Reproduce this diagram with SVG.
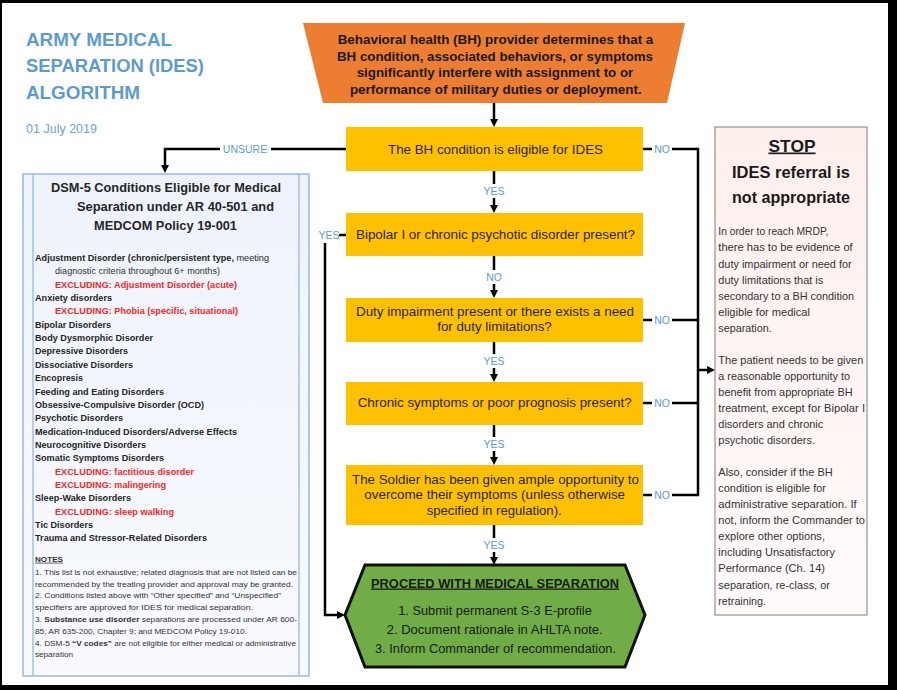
<svg xmlns="http://www.w3.org/2000/svg" width="897" height="690" viewBox="0 0 897 690">
<defs>
<style>
text{font-family:"Liberation Sans",Arial,Helvetica,sans-serif}
.conn{fill:none;stroke:#000;stroke-width:2.5}
.lbl{font-size:10.5px;fill:#5B9BD5;text-anchor:middle}
.dec{fill:#FFC000}
.dt{font-size:13.3px;fill:#262626;text-anchor:middle}
.ot{font-size:12.8px;font-weight:bold;fill:#1a1a1a;text-anchor:middle}
.ht{font-size:12.8px;fill:#1a1a1a;text-anchor:middle}
.li{font-size:9px;font-weight:bold;fill:#262626}
.lr{font-size:9px;fill:#333}
.ex{font-size:9px;font-weight:bold;fill:#FF2424}
.nt{font-size:7.3px;fill:#333}
.sb{font-size:11px;fill:#333}
.ttl{font-size:19px;font-weight:bold;fill:#5B9BD5}
</style>
<marker id="ah" markerWidth="8" markerHeight="8" refX="1" refY="4" orient="auto" markerUnits="userSpaceOnUse">
<path d="M0,0 L8,4 L0,8 z" fill="#000"/>
</marker>
<linearGradient id="pink" x1="0" y1="0" x2="0" y2="1">
<stop offset="0" stop-color="#FDEFEC"/>
<stop offset="1" stop-color="#FFFBFB"/>
</linearGradient>
<linearGradient id="blue" x1="0" y1="0" x2="0" y2="1">
<stop offset="0" stop-color="#EEF3FB"/>
<stop offset="1" stop-color="#F8FAFE"/>
</linearGradient>
</defs>

<rect x="0" y="0" width="897" height="690" fill="#000"/>
<rect x="2" y="3" width="886" height="682" fill="#fff"/>

<g id="title">
<text class="ttl" x="26" y="46" textLength="146" lengthAdjust="spacingAndGlyphs">ARMY MEDICAL</text>
<text class="ttl" x="26" y="72" textLength="178" lengthAdjust="spacingAndGlyphs">SEPARATION (IDES)</text>
<text class="ttl" x="26" y="99" textLength="114" lengthAdjust="spacingAndGlyphs">ALGORITHM</text>
<text x="26" y="133" font-size="12.5" fill="#6FA3DA" textLength="71" lengthAdjust="spacingAndGlyphs">01 July 2019</text>
</g>

<g id="connectors">
<line class="conn" x1="494" y1="103" x2="494" y2="120" marker-end="url(#ah)"/>
<line class="conn" x1="494" y1="171" x2="494" y2="184"/>
<text class="lbl" x="494" y="195.2">YES</text>
<line class="conn" x1="494" y1="198" x2="494" y2="206" marker-end="url(#ah)"/>
<line class="conn" x1="494" y1="256" x2="494" y2="270"/>
<text class="lbl" x="494" y="280.7">NO</text>
<line class="conn" x1="494" y1="284" x2="494" y2="291" marker-end="url(#ah)"/>
<line class="conn" x1="494" y1="342" x2="494" y2="354"/>
<text class="lbl" x="494" y="364.7">YES</text>
<line class="conn" x1="494" y1="368" x2="494" y2="375" marker-end="url(#ah)"/>
<line class="conn" x1="494" y1="425" x2="494" y2="437"/>
<text class="lbl" x="494" y="447.7">YES</text>
<line class="conn" x1="494" y1="451" x2="494" y2="458" marker-end="url(#ah)"/>
<line class="conn" x1="494" y1="525" x2="494" y2="538"/>
<text class="lbl" x="494" y="548.7">YES</text>
<line class="conn" x1="494" y1="552" x2="494" y2="558" marker-end="url(#ah)"/>

<path class="conn" d="M346,149 H271"/>
<text class="lbl" x="245" y="152.7">UNSURE</text>
<path class="conn" d="M220,149 H165 V166" marker-end="url(#ah)"/>

<path class="conn" d="M643,149 H652"/>
<text class="lbl" x="662" y="152.7">NO</text>
<path class="conn" d="M672,149 H698 V495 H672"/>
<path class="conn" d="M643,320 H652"/>
<text class="lbl" x="662" y="323.7">NO</text>
<path class="conn" d="M672,320 H698"/>
<path class="conn" d="M643,403 H652"/>
<text class="lbl" x="662" y="406.7">NO</text>
<path class="conn" d="M672,403 H698"/>
<path class="conn" d="M643,495 H652"/>
<text class="lbl" x="662" y="498.7">NO</text>
<path class="conn" d="M697,370 H708" marker-end="url(#ah)"/>

<path class="conn" d="M346,235 H339"/>
<text class="lbl" x="329" y="238.7">YES</text>
<path class="conn" d="M325,243 V615 H338" marker-end="url(#ah)"/>
</g>

<g id="start">
<polygon points="303,23 685,23 667,103 323,103" fill="#ED7D31"/>
<text class="ot" x="495.5" y="44" textLength="315.6" lengthAdjust="spacingAndGlyphs">Behavioral health (BH) provider determines that a</text>
<text class="ot" x="495" y="60.5" textLength="316" lengthAdjust="spacingAndGlyphs">BH condition, associated behaviors, or symptoms</text>
<text class="ot" x="495" y="77" textLength="276.6" lengthAdjust="spacingAndGlyphs">significantly interfere with assignment to or</text>
<text class="ot" x="495.8" y="93.5" textLength="291.7" lengthAdjust="spacingAndGlyphs">performance of military duties or deployment.</text>
</g>

<g id="q1">
<rect class="dec" x="346" y="127" width="297" height="44"/>
<text class="dt" x="495.5" y="153.7" textLength="215" lengthAdjust="spacingAndGlyphs">The BH condition is eligible for IDES</text>
</g>
<g id="q2">
<rect class="dec" x="346" y="213" width="297" height="43"/>
<text class="dt" x="495.5" y="238.7" textLength="279" lengthAdjust="spacingAndGlyphs">Bipolar I or chronic psychotic disorder present?</text>
</g>
<g id="q3">
<rect class="dec" x="346" y="298" width="297" height="44"/>
<text class="dt" x="495" y="316.4" textLength="278" lengthAdjust="spacingAndGlyphs">Duty impairment present or there exists a need</text>
<text class="dt" x="494.5" y="331.4" textLength="114.4" lengthAdjust="spacingAndGlyphs">for duty limitations?</text>
</g>
<g id="q4">
<rect class="dec" x="346" y="382" width="297" height="43"/>
<text class="dt" x="494.7" y="407.4" textLength="274" lengthAdjust="spacingAndGlyphs">Chronic symptoms or poor prognosis present?</text>
</g>
<g id="q5">
<rect class="dec" x="346" y="465" width="297" height="60"/>
<text class="dt" x="495.5" y="484" textLength="287" lengthAdjust="spacingAndGlyphs">The Soldier has been given ample opportunity to</text>
<text class="dt" x="494.7" y="499" textLength="260.7" lengthAdjust="spacingAndGlyphs">overcome their symptoms (unless otherwise</text>
<text class="dt" x="494.2" y="514.7" textLength="135" lengthAdjust="spacingAndGlyphs">specified in regulation).</text>
</g>

<g id="proceed">
<polygon points="365,565 625,565 645,615 625,667 365,667 345,615" fill="#70AD47" stroke="#111" stroke-width="3" stroke-linejoin="miter"/>
<text class="ot" x="495" y="587.5" text-decoration="underline" textLength="248" lengthAdjust="spacingAndGlyphs">PROCEED WITH MEDICAL SEPARATION</text>
<text class="ht" x="495" y="614.5" textLength="193.7" lengthAdjust="spacingAndGlyphs">1. Submit permanent S-3 E-profile</text>
<text class="ht" x="494.7" y="633.5" textLength="216" lengthAdjust="spacingAndGlyphs">2. Document rationale in AHLTA note.</text>
<text class="ht" x="495.5" y="652.5" textLength="241" lengthAdjust="spacingAndGlyphs">3. Inform Commander of recommendation.</text>
</g>

<g id="dsm">
<rect x="23" y="174" width="286" height="502" fill="url(#blue)" stroke="#95B9E3" stroke-width="1.5"/>
<line x1="33" y1="174" x2="33" y2="676" stroke="#95B9E3" stroke-width="1.3"/>
<line x1="299" y1="174" x2="299" y2="676" stroke="#95B9E3" stroke-width="1.3"/>
<text x="166" y="192" font-size="12.8" font-weight="bold" fill="#262626" text-anchor="middle" textLength="230" lengthAdjust="spacingAndGlyphs">DSM-5 Conditions Eligible for Medical</text>
<text x="175.5" y="210.5" font-size="12.8" font-weight="bold" fill="#262626" text-anchor="middle" textLength="197" lengthAdjust="spacingAndGlyphs">Separation under AR 40-501 and</text>
<text x="165.5" y="230" font-size="12.8" font-weight="bold" fill="#262626" text-anchor="middle" textLength="143" lengthAdjust="spacingAndGlyphs">MEDCOM Policy 19-001</text>

<text class="li" x="35" y="261" textLength="234" lengthAdjust="spacingAndGlyphs">Adjustment Disorder (chronic/persistent type, <tspan font-weight="normal">meeting</tspan></text>
<text class="lr" x="55" y="274.35" textLength="165" lengthAdjust="spacingAndGlyphs">diagnostic criteria throughout 6+ months)</text>
<text class="ex" x="55" y="287.7" textLength="182" lengthAdjust="spacingAndGlyphs">EXCLUDING: Adjustment Disorder (acute)</text>
<text class="li" x="35" y="301.05" textLength="77" lengthAdjust="spacingAndGlyphs">Anxiety disorders</text>
<text class="ex" x="55" y="314.4" textLength="183" lengthAdjust="spacingAndGlyphs">EXCLUDING: Phobia (specific, situational)</text>
<text class="li" x="35" y="327.75" textLength="76" lengthAdjust="spacingAndGlyphs">Bipolar Disorders</text>
<text class="li" x="35" y="341.1" textLength="118" lengthAdjust="spacingAndGlyphs">Body Dysmorphic Disorder</text>
<text class="li" x="35" y="354.45" textLength="93" lengthAdjust="spacingAndGlyphs">Depressive Disorders</text>
<text class="li" x="35" y="367.8" textLength="98" lengthAdjust="spacingAndGlyphs">Dissociative Disorders</text>
<text class="li" x="35" y="381.15" textLength="48" lengthAdjust="spacingAndGlyphs">Encopresis</text>
<text class="li" x="35" y="394.5" textLength="129" lengthAdjust="spacingAndGlyphs">Feeding and Eating Disorders</text>
<text class="li" x="35" y="407.85" textLength="169" lengthAdjust="spacingAndGlyphs">Obsessive-Compulsive Disorder (OCD)</text>
<text class="li" x="35" y="421.2" textLength="88" lengthAdjust="spacingAndGlyphs">Psychotic Disorders</text>
<text class="li" x="35" y="434.55" textLength="202" lengthAdjust="spacingAndGlyphs">Medication-Induced Disorders/Adverse Effects</text>
<text class="li" x="35" y="447.9" textLength="111" lengthAdjust="spacingAndGlyphs">Neurocognitive Disorders</text>
<text class="li" x="35" y="461.25" textLength="129" lengthAdjust="spacingAndGlyphs">Somatic Symptoms Disorders</text>
<text class="ex" x="55" y="474.6" textLength="139" lengthAdjust="spacingAndGlyphs">EXCLUDING: factitious disorder</text>
<text class="ex" x="55" y="487.95" textLength="111" lengthAdjust="spacingAndGlyphs">EXCLUDING: malingering</text>
<text class="li" x="35" y="501.3" textLength="96" lengthAdjust="spacingAndGlyphs">Sleep-Wake Disorders</text>
<text class="ex" x="55" y="514.65" textLength="119" lengthAdjust="spacingAndGlyphs">EXCLUDING: sleep walking</text>
<text class="li" x="35" y="528" textLength="58" lengthAdjust="spacingAndGlyphs">Tic Disorders</text>
<text class="li" x="35" y="541.35" textLength="172" lengthAdjust="spacingAndGlyphs">Trauma and Stressor-Related Disorders</text>

<text x="35" y="561.7" font-size="7.5" font-weight="bold" fill="#333" text-decoration="underline" textLength="28" lengthAdjust="spacingAndGlyphs">NOTES</text>
<text class="nt" x="35" y="574.7" textLength="262" lengthAdjust="spacingAndGlyphs">1. This list is not exhaustive; related diagnosis that are not listed can be</text>
<text class="nt" x="35" y="586.5" textLength="258" lengthAdjust="spacingAndGlyphs">recommended by the treating provider and approval may be granted.</text>
<text class="nt" x="35" y="598.3" textLength="246" lengthAdjust="spacingAndGlyphs">2. Conditions listed above with “Other specified” and “Unspecified”</text>
<text class="nt" x="35" y="610.1" textLength="218" lengthAdjust="spacingAndGlyphs">specifiers are approved for IDES for medical separation.</text>
<text class="nt" x="35" y="621.9" textLength="262" lengthAdjust="spacingAndGlyphs">3. <tspan font-weight="bold">Substance use disorder</tspan> separations are processed under AR 600-</text>
<text class="nt" x="35" y="633.7" textLength="212" lengthAdjust="spacingAndGlyphs">85; AR 635-200, Chapter 9; and MEDCOM Policy 19-010.</text>
<text class="nt" x="35" y="645.5" textLength="261" lengthAdjust="spacingAndGlyphs">4. DSM-5 <tspan font-weight="bold">“V codes”</tspan> are not eligible for either medical or administrative</text>
<text class="nt" x="35" y="657.3" textLength="38" lengthAdjust="spacingAndGlyphs">separation</text>
</g>

<g id="stop">
<rect x="715" y="127" width="152" height="488" fill="url(#pink)" stroke="#7F7F7F" stroke-width="1"/>
<text x="792" y="151.5" font-size="17" font-weight="bold" fill="#1a1a1a" text-anchor="middle" text-decoration="underline" textLength="47" lengthAdjust="spacingAndGlyphs">STOP</text>
<text x="791" y="177.5" font-size="17" font-weight="bold" fill="#1a1a1a" text-anchor="middle" textLength="118" lengthAdjust="spacingAndGlyphs">IDES referral is</text>
<text x="791" y="202.5" font-size="17" font-weight="bold" fill="#1a1a1a" text-anchor="middle" textLength="118" lengthAdjust="spacingAndGlyphs">not appropriate</text>

<text class="sb" x="718.3" y="235.4" textLength="110" lengthAdjust="spacingAndGlyphs">In order to reach MRDP,</text>
<text class="sb" x="718.3" y="251.45" textLength="134.4" lengthAdjust="spacingAndGlyphs">there has to be evidence of</text>
<text class="sb" x="718.3" y="267.5" textLength="133.4" lengthAdjust="spacingAndGlyphs">duty impairment or need for</text>
<text class="sb" x="718.3" y="283.55" textLength="105" lengthAdjust="spacingAndGlyphs">duty limitations that is</text>
<text class="sb" x="718.3" y="299.6" textLength="135.7" lengthAdjust="spacingAndGlyphs">secondary to a BH condition</text>
<text class="sb" x="718.3" y="315.65" textLength="91.7" lengthAdjust="spacingAndGlyphs">eligible for medical</text>
<text class="sb" x="718.3" y="331.7" textLength="53.4" lengthAdjust="spacingAndGlyphs">separation.</text>

<text class="sb" x="718.3" y="363.8" textLength="145" lengthAdjust="spacingAndGlyphs">The patient needs to be given</text>
<text class="sb" x="718.3" y="379.85" textLength="131.7" lengthAdjust="spacingAndGlyphs">a reasonable opportunity to</text>
<text class="sb" x="718.3" y="395.9" textLength="134.4" lengthAdjust="spacingAndGlyphs">benefit from appropriate BH</text>
<text class="sb" x="718.3" y="411.95" textLength="146.7" lengthAdjust="spacingAndGlyphs">treatment, except for Bipolar I</text>
<text class="sb" x="718.3" y="428" textLength="105" lengthAdjust="spacingAndGlyphs">disorders and chronic</text>
<text class="sb" x="718.3" y="444.05" textLength="96.7" lengthAdjust="spacingAndGlyphs">psychotic disorders.</text>

<text class="sb" x="718.3" y="476.15" textLength="114.4" lengthAdjust="spacingAndGlyphs">Also, consider if the BH</text>
<text class="sb" x="718.3" y="492.2" textLength="107.7" lengthAdjust="spacingAndGlyphs">condition is eligible for</text>
<text class="sb" x="718.3" y="508.25" textLength="138.4" lengthAdjust="spacingAndGlyphs">administrative separation. If</text>
<text class="sb" x="718.3" y="524.3" textLength="146.7" lengthAdjust="spacingAndGlyphs">not, inform the Commander to</text>
<text class="sb" x="718.3" y="540.35" textLength="106.7" lengthAdjust="spacingAndGlyphs">explore other options,</text>
<text class="sb" x="718.3" y="556.4" textLength="116.7" lengthAdjust="spacingAndGlyphs">including Unsatisfactory</text>
<text class="sb" x="718.3" y="572.45" textLength="106.7" lengthAdjust="spacingAndGlyphs">Performance (Ch. 14)</text>
<text class="sb" x="718.3" y="588.5" textLength="111.7" lengthAdjust="spacingAndGlyphs">separation, re-class, or</text>
<text class="sb" x="718.3" y="604.55" textLength="47.7" lengthAdjust="spacingAndGlyphs">retraining.</text>
</g>
</svg>
